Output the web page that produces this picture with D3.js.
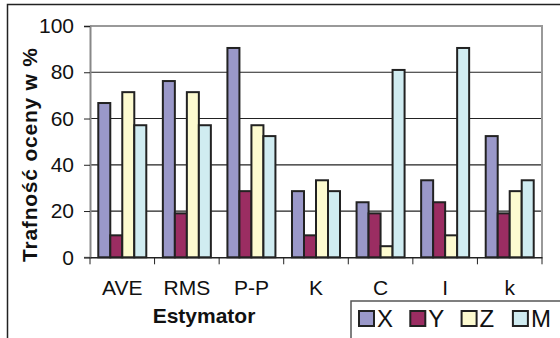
<!DOCTYPE html>
<html><head><meta charset="utf-8">
<script src="https://cdn.jsdelivr.net/npm/d3@7"></script>
<style>body{margin:0;background:#fff}svg{display:block}text{font-family:"Liberation Sans",Arial,sans-serif;fill:#111}</style>
</head><body><svg id="c" width="560" height="338"></svg>
<script>
const categories = ["AVE","RMS","P-P","K","C","I","k"];
const seriesNames = ["X","Y","Z","M"];
const X = [66.7, 76.2, 90.5, 28.6, 23.8, 33.3, 52.4];
const Y = [9.5, 19.0, 28.6, 9.5, 19.0, 23.8, 19.0];
const Z = [71.4, 71.4, 57.1, 33.3, 4.8, 9.5, 28.6];
const M = [57.1, 57.1, 52.4, 28.6, 81.0, 90.5, 33.3];
const yTicks = [0, 20, 40, 60, 80, 100];
const colors = ["#9a98c9", "#9b2d62", "#fdfbd0", "#d0ecf1"];
const seriesValues = [X, Y, Z, M];

const svg = d3.select("#c");
const L = 90, R = 542, T = 26, B = 257.3;

// outer chart border
svg.append("path").attr("d", "M7.5,338 V4.5 H560").attr("fill","none").attr("stroke","#222").attr("stroke-width",1.5);

const x = d3.scaleBand().domain(categories).range([L, R]).padding(0);
const xs = d3.scaleBand().domain(seriesNames).range([0, x.bandwidth()]).paddingInner(0).paddingOuter(0.69);
const y = d3.scaleLinear().domain([0, 100]).range([B, T]);

// gridlines
svg.append("g").selectAll("line").data(yTicks.filter(t => t > 0 && t < 100)).join("line")
  .attr("x1", L).attr("x2", R).attr("y1", d => y(d)).attr("y2", d => y(d))
  .attr("stroke", "#222").attr("stroke-width", 1.2);

// plot border top/right (gray)
svg.append("path").attr("d", `M${L},${T} H${R} V${B}`).attr("fill","none").attr("stroke","#999").attr("stroke-width",2);

// bars
const data = [];
categories.forEach((c, i) => seriesNames.forEach((s, j) => data.push({c, s, v: seriesValues[j][i], col: colors[j]})));
svg.append("g").selectAll("rect").data(data).join("rect")
  .attr("x", d => x(d.c) + xs(d.s))
  .attr("width", xs.bandwidth())
  .attr("y", d => y(d.v))
  .attr("height", d => B - y(d.v))
  .attr("fill", d => d.col)
  .attr("stroke", "#222").attr("stroke-width", 2);

// y axis
const yAxis = svg.append("g").attr("transform", `translate(${L},0)`)
  .call(d3.axisLeft(y).tickValues(yTicks).tickSize(6).tickPadding(10).tickFormat(d3.format("d")));
yAxis.select(".domain").attr("stroke", "#888").attr("stroke-width", 2);
yAxis.selectAll(".tick line").attr("stroke", "#222");
yAxis.selectAll(".tick text").attr("font-size", 21).attr("fill", "#111").attr("font-family", '"Liberation Sans",Arial,sans-serif');

// x axis
const xAxis = svg.append("g").attr("transform", `translate(0,${B})`)
  .call(d3.axisBottom(x).tickSize(0).tickPadding(23));
xAxis.select(".domain").attr("stroke", "#222").attr("stroke-width", 1.5);
xAxis.selectAll(".tick text").attr("font-size", 21).attr("fill", "#111").attr("font-family", '"Liberation Sans",Arial,sans-serif');
// boundary ticks
svg.append("g").selectAll("line").data(categories.map((c) => x(c)).concat([R])).join("line")
  .attr("x1", d => d).attr("x2", d => d).attr("y1", B).attr("y2", B + 7)
  .attr("stroke", "#222").attr("stroke-width", 1);

// axis titles
svg.append("text").attr("transform", "translate(37,155) rotate(-90)")
  .attr("text-anchor", "middle").attr("font-size", 21).attr("font-weight", "bold")
  .attr("textLength", 214).attr("lengthAdjust", "spacing")
  .text("Trafność oceny w %");
svg.append("text").attr("x", 204).attr("y", 323).attr("text-anchor", "middle")
  .attr("font-size", 21).attr("font-weight", "bold").text("Estymator");

// legend
svg.append("path").attr("d", "M351,338 V301 H560").attr("fill","none").attr("stroke","#555").attr("stroke-width",1.5);
const lg = svg.append("g").selectAll("g").data(seriesNames).join("g")
  .attr("transform", (d, i) => `translate(${359 + i * 51.3},311)`);
lg.append("rect").attr("width", 15).attr("height", 15).attr("fill", (d, i) => colors[i]).attr("stroke", "#222").attr("stroke-width", 2);
lg.append("text").attr("x", 18).attr("y", 16).attr("font-size", 24).text(d => d);
</script></body></html>
